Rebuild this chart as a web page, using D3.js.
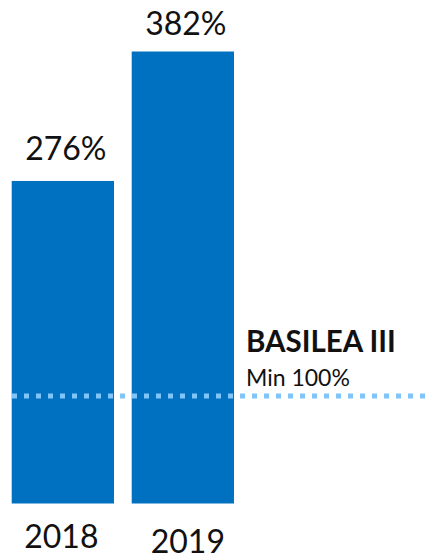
<!DOCTYPE html>
<html>
<head>
<meta charset="utf-8">
<script src="https://cdn.jsdelivr.net/npm/d3@7"></script>
<style>
  html, body { margin: 0; padding: 0; background: #fff; }
  svg { display: block; }
  text { font-family: Lato, "Noto Sans", sans-serif; fill: #111; }
</style>
</head>
<body>
<svg id="chart" width="426" height="553"></svg>
<script>
const categories = ["2018", "2019"];
const values = [276, 382];
const valueLabels = ["276%", "382%"];
const thresholdValue = 100;
const thresholdTitle = "BASILEA III";
const thresholdLabel = "Min 100%";

const W = 426, H = 553;
const barBottom = 503.5;
const svg = d3.select("#chart");

const x = d3.scaleBand()
  .domain(categories)
  .range([11.7, 234])
  .paddingInner(0.1475)
  .paddingOuter(0);

const y = d3.scaleLinear()
  .domain([0, 382])
  .range([518, 51.5]);

const data = categories.map((c, i) => ({ cat: c, v: values[i], lbl: valueLabels[i] }));

svg.append("g").selectAll("rect")
  .data(data)
  .join("rect")
  .attr("x", d => x(d.cat))
  .attr("y", d => y(d.v))
  .attr("width", x.bandwidth())
  .attr("height", d => barBottom - y(d.v))
  .attr("fill", "#0070c0");

svg.append("g").selectAll("text")
  .data(data)
  .join("text")
  .attr("x", d => x(d.cat) + x.bandwidth() / 2 + 3)
  .attr("y", (d, i) => y(d.v) - (i === 0 ? 21 : 17))
  .attr("text-anchor", "middle")
  .attr("font-size", 32)
  .text(d => d.lbl);

svg.append("g").selectAll("text")
  .data(data)
  .join("text")
  .attr("x", (d, i) => x(d.cat) + x.bandwidth() / 2 + (i === 0 ? -1.5 : 5))
  .attr("y", (d, i) => i === 0 ? 548 : 553)
  .attr("text-anchor", "middle")
  .attr("font-size", 32)
  .text(d => d.cat);

const ty = y(thresholdValue);
svg.append("line")
  .attr("x1", 12)
  .attr("x2", W)
  .attr("y1", ty)
  .attr("y2", ty)
  .attr("stroke", "#80c4f8")
  .attr("stroke-width", 5)
  .attr("stroke-dasharray", "5,7");

svg.append("text")
  .attr("x", 246)
  .attr("y", ty - 44)
  .attr("font-size", 29.5)
  .attr("font-weight", 700)
  .text(thresholdTitle);

svg.append("text")
  .attr("x", 246)
  .attr("y", ty - 9.5)
  .attr("font-size", 23)
  .text(thresholdLabel);
</script>
</body>
</html>
